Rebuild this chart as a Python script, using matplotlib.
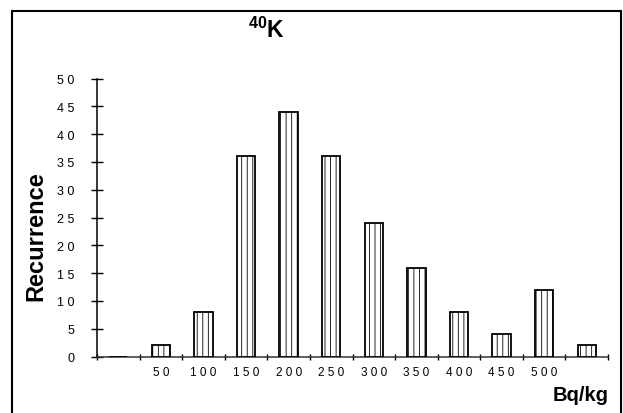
import matplotlib
matplotlib.use("Agg")
import matplotlib.pyplot as plt
from matplotlib.patches import Rectangle
import numpy as np

categories = ["", "50", "100", "150", "200", "250", "300", "350", "400", "450", "500", ""]
values = [0, 2, 8, 36, 44, 36, 24, 16, 8, 4, 12, 2]
yticks = [0, 5, 10, 15, 20, 25, 30, 35, 40, 45, 50]

def spaced(s):
    return " ".join(list(s))

plt.rcParams['font.family'] = ['Liberation Sans', 'DejaVu Sans']
plt.rcParams['hatch.linewidth'] = 0.6
plt.rcParams['mathtext.fontset'] = 'custom'
plt.rcParams['mathtext.bf'] = 'Liberation Sans:bold'
plt.rcParams['mathtext.rm'] = 'Liberation Sans'

W, H = 623, 414
fig = plt.figure(figsize=(W/100, H/100), dpi=100)
fig.patch.set_facecolor('white')

# outer frame
fig.patches.append(Rectangle((12/W, -0.05), (621-12)/W, 1.05 - 12/H, transform=fig.transFigure,
                             fill=False, edgecolor='black', linewidth=1.5, zorder=0))

ax = fig.add_axes([97/W, 1-357.5/H, (608-97)/W, (357.5-79.5)/H])
x = list(range(len(values)))
ax.bar(x, values, width=0.43, color='white', edgecolor='black', linewidth=1.3, hatch='|||', zorder=3)

ax.set_xlim(-0.5, len(values)-0.5)
ax.set_ylim(0, 50)
for s in ['top', 'right']:
    ax.spines[s].set_visible(False)
ax.spines['left'].set_linewidth(1.1)
ax.spines['bottom'].set_linewidth(1.1)
ax.spines['bottom'].set_color('#333333')

ax.set_yticks(yticks)
ax.set_yticklabels([spaced(str(v)) for v in yticks], fontsize=9)
ax.tick_params(axis='y', direction='inout', length=9, width=1, pad=12)

bounds = np.arange(len(values)+1) - 0.5
ax.set_xticks(bounds)
ax.set_xticklabels([])
ax.tick_params(axis='x', direction='inout', length=5, width=1)
for i, c in enumerate(categories):
    if c:
        ax.text(i, -2.8, spaced(c), ha='center', va='center', fontsize=8.5)

fig.text(36/W, 1-236/H, "Recurrence", rotation=90, ha='center', va='center',
         fontsize=17, fontweight='bold')

fig.text(581/W, 1-396/H, "Bq/kg", ha='center', va='center', fontsize=14.5, fontweight='bold')
fig.text(266/W, 1-30/H, r"$\mathbf{^{40}}$K", ha='center', va='center', fontsize=16.5, fontweight='bold')

fig.savefig("out.png", dpi=100)
